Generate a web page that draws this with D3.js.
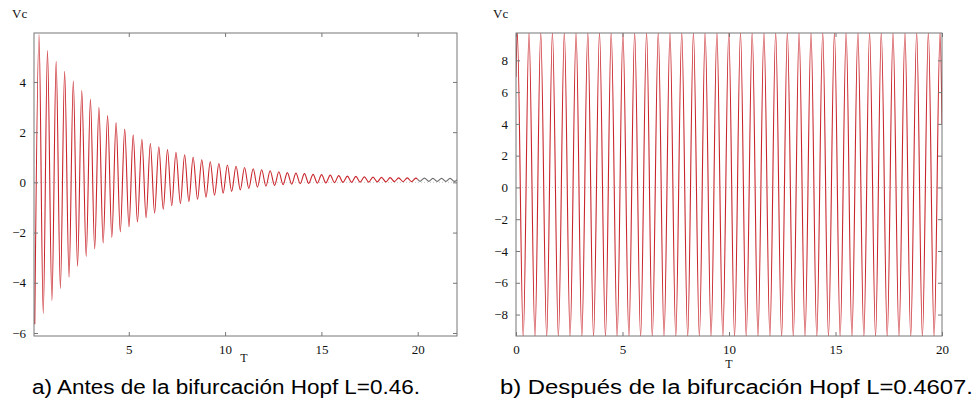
<!DOCTYPE html>
<html>
<head>
<meta charset="utf-8">
<script src="https://cdn.jsdelivr.net/npm/d3@7"></script>
<style>
body { margin: 0; background: #fff; }
svg { display: block; }
.tick text { font-family: "Liberation Serif", "DejaVu Serif", serif; font-size: 13px; fill: #111; }
.lbl { font-family: "Liberation Serif", "DejaVu Serif", serif; fill: #111; }
.cap { font-family: "Liberation Sans", Arial, sans-serif; font-size: 20px; fill: #000; }
</style>
</head>
<body>
<svg width="978" height="402"></svg>
<script>
// ---- panel a) damped oscillation, extrema ----
var peaksT_a = [0.34, 0.78, 1.23, 1.67, 2.12, 2.56, 3.01, 3.45, 3.90, 4.34,
                4.79, 5.23, 5.68, 6.12, 6.56, 7.01, 7.45, 7.90, 8.34, 8.79,
                9.23, 9.68, 10.12, 10.57, 11.01, 11.46, 11.90, 12.34, 12.79, 13.23,
                13.68, 14.12, 14.57, 15.01, 15.46, 15.90, 16.35, 16.79, 17.23, 17.68,
                18.12, 18.57, 19.01, 19.46, 19.90, 20.35, 20.79, 21.24, 21.68, 22.13];
var peaksV_a = [5.89, 5.25, 4.82, 4.42, 4.04, 3.66, 3.31, 2.98, 2.66, 2.38,
                2.12, 1.89, 1.72, 1.55, 1.42, 1.31, 1.20, 1.10, 1.00, 0.90,
                0.82, 0.75, 0.69, 0.64, 0.59, 0.54, 0.50, 0.46, 0.42, 0.39,
                0.37, 0.35, 0.32, 0.31, 0.29, 0.27, 0.25, 0.24, 0.22, 0.21,
                0.20, 0.19, 0.18, 0.18, 0.17, 0.17, 0.16, 0.16, 0.16, 0.16];
var troughsT_a = [0.12, 0.56, 1.01, 1.45, 1.90, 2.34, 2.79, 3.23, 3.67, 4.12,
                  4.56, 5.01, 5.45, 5.90, 6.34, 6.79, 7.23, 7.68, 8.12, 8.57,
                  9.01, 9.45, 9.90, 10.34, 10.79, 11.23, 11.68, 12.12, 12.57, 13.01,
                  13.46, 13.90, 14.34, 14.79, 15.23, 15.68, 16.12, 16.57, 17.01, 17.46,
                  17.90, 18.35, 18.79, 19.24, 19.68, 20.12, 20.57, 21.01, 21.46, 21.90];
var troughsV_a = [-5.65, -5.22, -4.71, -4.23, -3.78, -3.35, -2.95, -2.65, -2.41, -2.19,
                  -1.97, -1.77, -1.58, -1.41, -1.23, -1.07, -0.93, -0.84, -0.76, -0.67,
                  -0.59, -0.51, -0.43, -0.36, -0.30, -0.24, -0.19, -0.15, -0.12, -0.09,
                  -0.07, -0.05, -0.04, -0.03, -0.02, -0.01, 0.00, 0.00, 0.01, 0.01,
                  0.02, 0.02, 0.03, 0.03, 0.03, 0.04, 0.04, 0.04, 0.04, 0.04];
var xTicks_a = [5, 10, 15, 20];
var yTicks_a = [-6, -4, -2, 0, 2, 4];

// ---- panel b) sustained oscillation ----
var peaksT_b = [0.06, 0.61, 1.16, 1.71, 2.27, 2.82, 3.37, 3.92, 4.47, 5.02,
                5.57, 6.13, 6.68, 7.23, 7.78, 8.33, 8.88, 9.43, 9.99, 10.54,
                11.09, 11.64, 12.19, 12.74, 13.29, 13.85, 14.40, 14.95, 15.50, 16.05,
                16.60, 17.15, 17.70, 18.26, 18.81, 19.36, 19.91];
var peaksV_b = [9.8, 9.8, 9.8, 9.8, 9.8, 9.8, 9.8, 9.8, 9.8, 9.8,
                9.8, 9.8, 9.8, 9.8, 9.8, 9.8, 9.8, 9.8, 9.8, 9.8,
                9.8, 9.8, 9.8, 9.8, 9.8, 9.8, 9.8, 9.8, 9.8, 9.8,
                9.8, 9.8, 9.8, 9.8, 9.8, 9.8, 9.8];
var troughsT_b = [0.34, 0.89, 1.44, 1.99, 2.54, 3.09, 3.64, 4.20, 4.75, 5.30,
                  5.85, 6.40, 6.95, 7.50, 8.06, 8.61, 9.16, 9.71, 10.26, 10.81,
                  11.36, 11.92, 12.47, 13.02, 13.57, 14.12, 14.67, 15.22, 15.77, 16.33,
                  16.88, 17.43, 17.98, 18.53, 19.08, 19.63];
var troughsV_b = [-9.45, -9.45, -9.45, -9.45, -9.45, -9.45, -9.45, -9.45, -9.45, -9.45,
                  -9.45, -9.45, -9.45, -9.45, -9.45, -9.45, -9.45, -9.45, -9.45, -9.45,
                  -9.45, -9.45, -9.45, -9.45, -9.45, -9.45, -9.45, -9.45, -9.45, -9.45,
                  -9.45, -9.45, -9.45, -9.45, -9.45, -9.45];
var edgeT_b = [0, 20];
var edgeV_b = [6.95, 4.0];
var xTicks_b = [0, 5, 10, 15, 20];
var yTicks_b = [-8, -6, -4, -2, 0, 2, 4, 6, 8];

var svg = d3.select("svg");

function pts(ts, vs) {
    return ts.map(function(t, i) { return {t: t, v: vs[i]}; });
}

function drawPanel(o) {
    var x = d3.scaleLinear().domain(o.xDom).range([o.left, o.right]);
    var y = d3.scaleLinear().domain(o.yDom).range([o.bottom, o.top]);
    var g = svg.append("g");

    var data = o.points.sort(function(a, b) { return a.t - b.t; });
    var line = d3.line()
        .x(function(d) { return x(d.t); })
        .y(function(d) { return y(d.v); })
        .curve(d3.curveMonotoneX);

    // dotted zero line
    g.append("line")
        .attr("x1", o.left).attr("x2", o.right)
        .attr("y1", y(0)).attr("y2", y(0))
        .attr("stroke", "#bbb").attr("stroke-width", 0.8)
        .attr("stroke-dasharray", "1,2");

    // the line, coloured per T range (clip)
    o.parts.forEach(function(p, i) {
        var id = o.id + "clip" + i;
        var x0 = x(Math.max(p[0], o.xDom[0])), x1 = x(Math.min(p[1], o.xDom[1]));
        svg.append("clipPath").attr("id", id)
            .append("rect")
            .attr("x", x0).attr("y", o.top)
            .attr("width", x1 - x0).attr("height", o.bottom - o.top);
        g.append("path")
            .datum(data)
            .attr("clip-path", "url(#" + id + ")")
            .attr("fill", "none")
            .attr("stroke", p[2])
            .attr("stroke-width", 1.1)
            .attr("d", line);
    });

    // frame
    g.append("rect")
        .attr("x", o.left).attr("y", o.top)
        .attr("width", o.right - o.left).attr("height", o.bottom - o.top)
        .attr("fill", "none").attr("stroke", "#777").attr("stroke-width", 1);

    var ax = [
        [d3.axisBottom(x).tickValues(o.xTicks).tickSize(-4).tickPadding(9), o.bottom, "y"],
        [d3.axisTop(x).tickValues(o.xTicks).tickSize(-4).tickFormat(function() { return ""; }), o.top, "y"],
        [d3.axisLeft(y).tickValues(o.yTicks).tickSize(-4).tickPadding(8), o.left, "x"],
        [d3.axisRight(y).tickValues(o.yTicks).tickSize(-4).tickFormat(function() { return ""; }), o.right, "x"]
    ];
    ax.forEach(function(a) {
        var ag = g.append("g")
            .attr("transform", a[2] == "y" ? "translate(0," + a[1] + ")" : "translate(" + a[1] + ",0)")
            .call(a[0]);
        ag.select(".domain").remove();
        ag.selectAll(".tick line").attr("stroke", "#777");
        ag.attr("font-family", null).attr("font-size", null);
    });

    g.append("text").attr("class", "lbl")
        .attr("x", o.vcX).attr("y", 18)
        .attr("font-size", 13)
        .text("Vc");
    g.append("text").attr("class", "lbl")
        .attr("x", o.tX).attr("y", o.tY)
        .attr("text-anchor", "middle")
        .attr("font-size", 12)
        .text("T");

    g.append("text").attr("class", "cap")
        .attr("x", o.capX).attr("y", 394)
        .attr("textLength", o.capW)
        .attr("lengthAdjust", "spacingAndGlyphs")
        .text(o.caption);
}

drawPanel({
    id: "a",
    left: 34, right: 457, top: 33, bottom: 336,
    xDom: [0.08, 22.04], yDom: [-6.12, 5.95],
    points: pts(peaksT_a, peaksV_a).concat(pts(troughsT_a, troughsV_a)),
    parts: [[0, 20, "#c9262c"], [20, 23, "#6e6e6e"]],
    xTicks: xTicks_a, yTicks: yTicks_a,
    vcX: 12, tX: 244, tY: 362,
    capX: 32, capW: 388,
    caption: "a) Antes de la bifurcación Hopf L=0.46."
});

drawPanel({
    id: "b",
    left: 516, right: 942, top: 33, bottom: 336,
    xDom: [0, 20], yDom: [-9.35, 9.72],
    points: pts(peaksT_b, peaksV_b).concat(pts(troughsT_b, troughsV_b)).concat(pts(edgeT_b, edgeV_b)),
    parts: [[0, 20, "#c9262c"]],
    xTicks: xTicks_b, yTicks: yTicks_b,
    vcX: 493, tX: 729, tY: 368,
    capX: 500, capW: 473,
    caption: "b) Después de la bifurcación Hopf L=0.4607."
});
</script>
</body>
</html>
